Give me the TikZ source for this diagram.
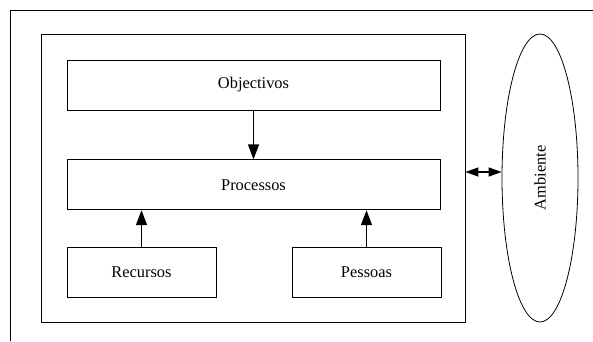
\documentclass[tikz,border=0pt]{standalone}
\usepackage{fontspec}
\setmainfont{Liberation Serif}
\usepackage{tikz}
\usetikzlibrary{arrows.meta, positioning, shapes.geometric}

\begin{document}
\begin{tikzpicture}[
    x=1pt, y=1pt,
    box/.style={rectangle, draw=black, line width=0.8pt, minimum height=50pt, inner sep=0pt, font=\fontsize{16.4}{20}\selectfont},
    arrow/.style={-{Triangle[length=15pt, width=11pt]}, line width=1.2pt},
    dblarrow/.style={{Triangle[length=13pt, width=9pt]}-{Triangle[length=13pt, width=9pt]}, line width=1.2pt}
]
\useasboundingbox (0,0) rectangle (593,341);

% --- Outer frame (open to the right and below) ---
\draw[line width=0.8pt] (10,0) -- (10,331) -- (593,331);

% --- System boundary ---
\node[box, minimum width=424pt, minimum height=288pt] (system) at (253,163) {};

% --- Inner blocks ---
\node[box, minimum width=373pt] (objectivos) at (253.5,256) {Objectivos};
\node[box, minimum width=373pt, below=49pt of objectivos] (processos) {Processos};
\node[box, minimum width=149pt] (recursos) at (141.5,69) {Recursos};
\node[box, minimum width=149pt] (pessoas) at (366.5,69) {Pessoas};

% --- Environment ---
\node[ellipse, draw=black, line width=0.8pt, minimum width=76pt, minimum height=288pt, inner sep=0pt] (ambiente) at (540,163) {};
\node[rotate=90, font=\fontsize{16.4}{20}\selectfont] (ambientetxt) at (ambiente) {Ambiente};

% --- Flow Connections ---
\draw[arrow] (objectivos) -- (processos);
\draw[arrow] (recursos.north) -- (recursos.north |- processos.south);
\draw[arrow] (pessoas.north) -- (pessoas.north |- processos.south);

% System <-> environment
\draw[dblarrow] ([yshift=6pt]system.east) -- ([yshift=6pt]ambiente.west);

\end{tikzpicture}
\end{document}
